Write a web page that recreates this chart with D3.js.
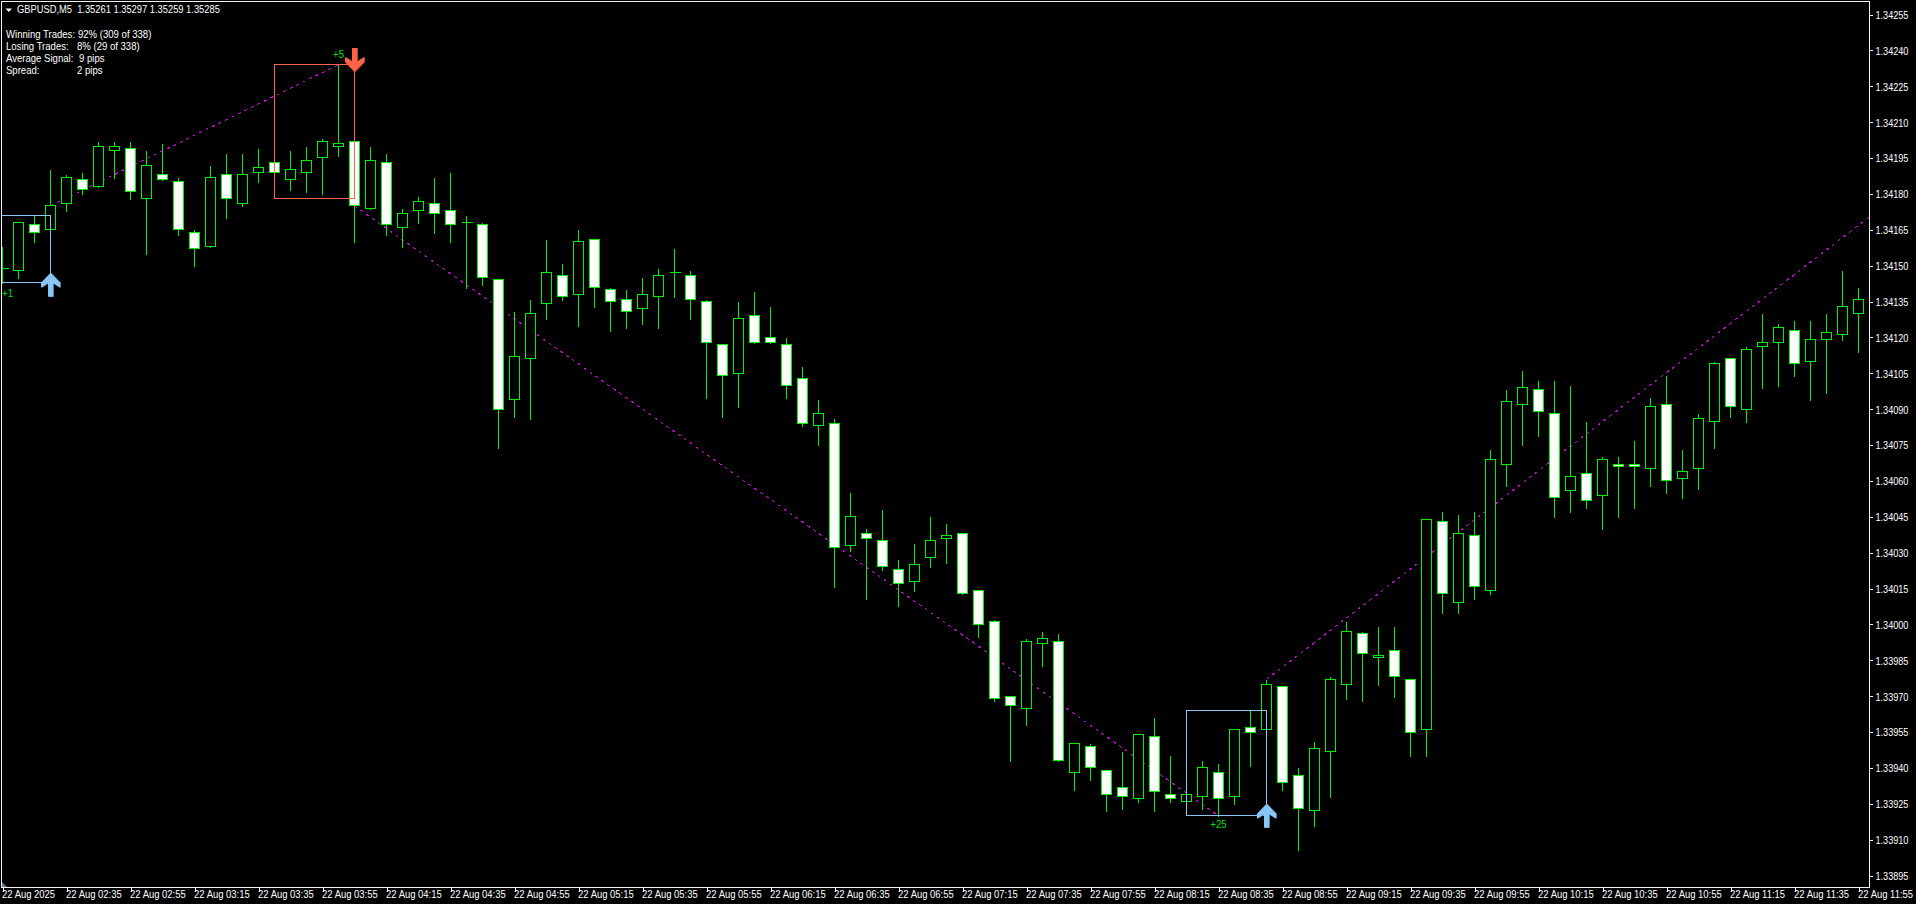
<!DOCTYPE html>
<html><head><meta charset="utf-8">
<style>
html,body{margin:0;padding:0;background:#000;overflow:hidden}
svg{display:block}
text{font-family:"Liberation Sans",Arial,sans-serif;font-size:11px;fill:#fff}
</style>
<script src="https://cdnjs.cloudflare.com/ajax/libs/d3/7.8.5/d3.min.js"></script>
</head><body>
<svg id="chart" width="1916" height="904"></svg>
<script>
const opens=[1.34149,1.34148,1.34167,1.34165,1.34176,1.34186,1.34183,1.34198,1.34199,1.34178,
1.34188,1.34185,1.34164,1.34158,1.34188,1.34176,1.34189,1.34193,1.34186,1.34189,
1.34195,1.34200,1.34202,1.34174,1.34193,1.34166,1.34173,1.34176,1.34173,1.34168,
1.34167,1.34144,1.34094,1.34111,1.34134,1.34146,1.34138,1.34161,1.34140,1.34136,
1.34132,1.34137,1.34147,1.34146,1.34135,1.34117,1.34105,1.34129,1.34120,1.34117,
1.34103,1.34083,1.34084,1.34033,1.34038,1.34035,1.34023,1.34018,1.34028,1.34036,
1.34038,1.34014,1.34001,1.33970,1.33965,1.33992,1.33993,1.33938,1.33949,1.33939,
1.33932,1.33927,1.33953,1.33929,1.33926,1.33928,1.33938,1.33928,1.33957,1.33956,
1.33974,1.33937,1.33922,1.33947,1.33975,1.33996,1.33986,1.33989,1.33977,1.33956,
1.34043,1.34009,1.34037,1.34014,1.34067,1.34092,1.34098,1.34088,1.34056,1.34063,
1.34054,1.34067,1.34067,1.34065,1.34092,1.34061,1.34065,1.34085,1.34111,1.34090,
1.34116,1.34118,1.34123,1.34110,1.34119,1.34121,1.34130];
const highs=[1.34158,1.34168,1.34171,1.34190,1.34188,1.34189,1.34202,1.34202,1.34202,1.34198,
1.34201,1.34187,1.34165,1.34192,1.34197,1.34197,1.34199,1.34193,1.34198,1.34200,
1.34203,1.34234,1.34202,1.34200,1.34197,1.34174,1.34179,1.34187,1.34189,1.34171,
1.34168,1.34144,1.34131,1.34136,1.34161,1.34151,1.34165,1.34161,1.34141,1.34140,
1.34145,1.34149,1.34157,1.34148,1.34136,1.34117,1.34135,1.34139,1.34133,1.34120,
1.34108,1.34094,1.34086,1.34055,1.34040,1.34048,1.34027,1.34034,1.34045,1.34042,
1.34038,1.34014,1.34002,1.33970,1.33994,1.33997,1.33996,1.33950,1.33950,1.33939,
1.33947,1.33954,1.33961,1.33945,1.33929,1.33943,1.33942,1.33956,1.33964,1.33977,
1.33974,1.33940,1.33951,1.33978,1.34001,1.33997,1.33999,1.33999,1.33977,1.34044,
1.34047,1.34046,1.34047,1.34073,1.34098,1.34106,1.34102,1.34102,1.34100,1.34085,
1.34070,1.34070,1.34077,1.34095,1.34104,1.34073,1.34088,1.34110,1.34111,1.34116,
1.34130,1.34126,1.34127,1.34127,1.34130,1.34148,1.34141];
const lows=[1.34143,1.34145,1.34160,1.34165,1.34173,1.34180,1.34183,1.34187,1.34178,1.34155,
1.34186,1.34163,1.34150,1.34158,1.34170,1.34175,1.34185,1.34189,1.34182,1.34181,
1.34180,1.34196,1.34160,1.34174,1.34163,1.34158,1.34168,1.34164,1.34160,1.34141,
1.34142,1.34074,1.34087,1.34086,1.34128,1.34136,1.34125,1.34133,1.34123,1.34124,
1.34126,1.34124,1.34137,1.34128,1.34095,1.34087,1.34091,1.34118,1.34118,1.34095,
1.34083,1.34075,1.34016,1.34031,1.34011,1.34023,1.34008,1.34014,1.34024,1.34026,
1.34013,1.33995,1.33968,1.33943,1.33958,1.33983,1.33943,1.33931,1.33935,1.33922,
1.33923,1.33926,1.33922,1.33926,1.33926,1.33923,1.33920,1.33925,1.33941,1.33956,
1.33931,1.33906,1.33916,1.33928,1.33969,1.33968,1.33975,1.33970,1.33945,1.33945,
1.34005,1.34005,1.34011,1.34013,1.34058,1.34075,1.34079,1.34045,1.34047,1.34049,
1.34040,1.34045,1.34049,1.34058,1.34055,1.34053,1.34057,1.34074,1.34087,1.34085,
1.34099,1.34100,1.34104,1.34094,1.34097,1.34119,1.34114];
const closes=[1.34149,1.34168,1.34164,1.34175,1.34187,1.34182,1.34200,1.34200,1.34181,1.34192,
1.34186,1.34165,1.34157,1.34187,1.34178,1.34188,1.34191,1.34189,1.34190,1.34194,
1.34202,1.34201,1.34175,1.34194,1.34167,1.34172,1.34177,1.34172,1.34167,1.34168,
1.34145,1.34090,1.34112,1.34130,1.34147,1.34137,1.34160,1.34141,1.34135,1.34131,
1.34138,1.34146,1.34147,1.34136,1.34118,1.34104,1.34128,1.34118,1.34118,1.34100,
1.34084,1.34088,1.34032,1.34045,1.34036,1.34024,1.34017,1.34025,1.34035,1.34037,
1.34013,1.34000,1.33969,1.33966,1.33993,1.33994,1.33943,1.33950,1.33940,1.33929,
1.33928,1.33954,1.33930,1.33927,1.33929,1.33940,1.33927,1.33956,1.33955,1.33975,
1.33934,1.33923,1.33948,1.33977,1.33997,1.33988,1.33987,1.33978,1.33955,1.34044,
1.34013,1.34038,1.34016,1.34069,1.34093,1.34099,1.34089,1.34053,1.34062,1.34052,
1.34069,1.34066,1.34066,1.34091,1.34060,1.34064,1.34086,1.34109,1.34091,1.34115,
1.34118,1.34124,1.34109,1.34119,1.34122,1.34133,1.34136];
const priceTicks=["1.34255","1.34240","1.34225","1.34210","1.34195","1.34180","1.34165","1.34150","1.34135","1.34120","1.34105","1.34090","1.34075","1.34060","1.34045","1.34030","1.34015","1.34000","1.33985","1.33970","1.33955","1.33940","1.33925","1.33910","1.33895"];
const timeTicks=["22 Aug 2025","22 Aug 02:35","22 Aug 02:55","22 Aug 03:15","22 Aug 03:35","22 Aug 03:55","22 Aug 04:15","22 Aug 04:35","22 Aug 04:55","22 Aug 05:15","22 Aug 05:35","22 Aug 05:55","22 Aug 06:15","22 Aug 06:35","22 Aug 06:55","22 Aug 07:15","22 Aug 07:35","22 Aug 07:55","22 Aug 08:15","22 Aug 08:35","22 Aug 08:55","22 Aug 09:15","22 Aug 09:35","22 Aug 09:55","22 Aug 10:15","22 Aug 10:35","22 Aug 10:55","22 Aug 11:15","22 Aug 11:35","22 Aug 11:55"];
const trendLines=[[3,1.34175,21,1.34234],[22,1.34175,76,1.33920],[79,1.33977,117,1.34172]];
const boxes=[[-3,1.34171,3,1.34143,"#87c6f5"],[17,1.34234,22,1.34178,"#ff6347"],[74,1.33964,79,1.33920,"#87c6f5"]];
const arrows=[[3,1.34147,1],[79,1.33925,1],[22,1.34231,-1]];
const profitLabels=[[0,1.34137,"+1"],[21,1.34237,"+5"],[76,1.33915,"+25"]];
const headerText="GBPUSD,M5  1.35261 1.35297 1.35259 1.35285";
const infoRows=[["Winning Trades:","92% (309 of 338)",78],["Losing Trades:","8% (29 of 338)",77],["Average Signal:","9 pips",79],["Spread:","2 pips",77]];

const svg=d3.select("#chart");
const x=d3.scaleLinear().domain([0,116]).range([2.5,1858.5]);
const y=d3.scaleLinear().domain([1.33895,1.34255]).range([875.5,14.5]);
const sy=p=>Math.floor(y(p))+0.5;
const GREEN="#00f000";
// narrows a text horizontally about its own x anchor
function fit(sel,k){sel.each(function(){const ax=+(this.getAttribute("x")||0);
  this.setAttribute("transform",`translate(${ax*(1-k)},0) scale(${k},1)`);});}

svg.append("defs").append("clipPath").attr("id","plot").append("rect")
  .attr("x",1).attr("y",1).attr("width",1869).attr("height",887);
const plot=svg.append("g").attr("clip-path","url(#plot)");

plot.selectAll("line.trend").data(trendLines).join("line").attr("class","trend")
  .attr("x1",d=>x(d[0])).attr("y1",d=>y(d[1])).attr("x2",d=>x(d[2])).attr("y2",d=>y(d[3]))
  .attr("stroke","#e000f0").attr("stroke-width",1).attr("stroke-dasharray","3 4.2")
  .attr("shape-rendering","crispEdges");

const bars=d3.range(opens.length);
const candles=plot.append("g").attr("shape-rendering","crispEdges");
candles.selectAll("line.wick").data(bars).join("line").attr("class","wick")
  .attr("x1",i=>x(i)).attr("x2",i=>x(i)).attr("y1",i=>sy(highs[i])).attr("y2",i=>sy(lows[i])+1)
  .attr("stroke",GREEN);
candles.selectAll("rect.body").data(bars.filter(i=>opens[i]!==closes[i])).join("rect").attr("class","body")
  .attr("x",i=>x(i)-5).attr("width",10)
  .attr("y",i=>sy(Math.max(opens[i],closes[i])))
  .attr("height",i=>sy(Math.min(opens[i],closes[i]))-sy(Math.max(opens[i],closes[i])))
  .attr("fill",i=>closes[i]<opens[i]?"#fff":"#000").attr("stroke",GREEN);
candles.selectAll("line.doji").data(bars.filter(i=>opens[i]===closes[i])).join("line").attr("class","doji")
  .attr("x1",i=>x(i)-5).attr("x2",i=>x(i)+6).attr("y1",i=>sy(opens[i])).attr("y2",i=>sy(opens[i]))
  .attr("stroke",GREEN);

plot.selectAll("rect.box").data(boxes).join("rect").attr("class","box")
  .attr("x",d=>x(d[0])).attr("y",d=>sy(d[1])).attr("width",d=>x(d[2])-x(d[0])).attr("height",d=>sy(d[3])-sy(d[1]))
  .attr("fill","none").attr("stroke",d=>d[4]).attr("shape-rendering","crispEdges");

const arrowPath="M0,0L9.5,10L9.5,15L2.5,10.5L2.5,24L-2.5,24L-2.5,10.5L-9.5,15L-9.5,10Z";
const ag=plot.selectAll("g.arrow").data(arrows).join("g").attr("class","arrow")
  .attr("transform",d=>`translate(${x(d[0])},${y(d[1])}) scale(1,${d[2]})`);
ag.append("path").attr("d",arrowPath).attr("transform","translate(1,0)").attr("fill",d=>d[2]>0?"#4f7f9f":"#a84a38");
ag.append("path").attr("d",arrowPath).attr("fill",d=>d[2]>0?"#87c6f5":"#ff6347");

plot.selectAll("text.profit").data(profitLabels).join("text").attr("class","profit")
  .attr("x",d=>d[0]===0?2:x(d[0])).attr("y",d=>y(d[1])).attr("text-anchor",d=>d[0]===0?"start":"middle")
  .style("fill","#00e000").text(d=>d[2]).call(fit,0.88);

// axes
const yAxis=d3.axisRight(y).tickValues(priceTicks.map(Number)).tickFormat(d=>d.toFixed(5)).tickSize(3).tickPadding(3);
const yg=svg.append("g").attr("transform","translate(1869.5,0)").call(yAxis);
const xAxis=d3.axisBottom(x).tickValues(timeTicks.map((t,i)=>i*4)).tickFormat((d)=>timeTicks[d/4]).tickSize(3).tickPadding(0);
const xg=svg.append("g").attr("transform","translate(0,887.5)").call(xAxis);
yg.select(".domain").remove(); xg.select(".domain").remove();
yg.attr("font-family",null).attr("font-size",null); xg.attr("font-family",null).attr("font-size",null);
yg.selectAll("line").attr("stroke","#fff").attr("shape-rendering","crispEdges");
xg.selectAll("line").attr("stroke","#fff").attr("shape-rendering","crispEdges");
yg.selectAll("text").attr("dy","0.36em").call(fit,0.83);
xg.selectAll("text").attr("text-anchor","start").attr("x",-1).attr("y",3).attr("dy","0.72em").call(fit,0.86);

// frame
svg.append("rect").attr("x",1.5).attr("y",1.5).attr("width",1868).attr("height",886)
  .attr("fill","none").attr("stroke","#f2f2f2").attr("shape-rendering","crispEdges");
svg.append("path").attr("d","M2,882L7,887L2,887Z").attr("fill","#62768a");

// header
svg.append("path").attr("d","M5.5,8.5L12,8.5L8.75,12Z").attr("fill","#fff");
svg.append("text").attr("x",17).attr("y",13).attr("xml:space","preserve").style("white-space","pre").text(headerText).call(fit,0.85);
const rows=svg.selectAll("g.info").data(infoRows).join("g").attr("class","info")
  .attr("transform",(d,i)=>`translate(0,${38+i*12})`);
rows.append("text").attr("x",6).text(d=>d[0]).call(fit,0.87);
rows.append("text").attr("x",d=>d[2]).text(d=>d[1]).call(fit,0.87);
</script>
</body></html>
